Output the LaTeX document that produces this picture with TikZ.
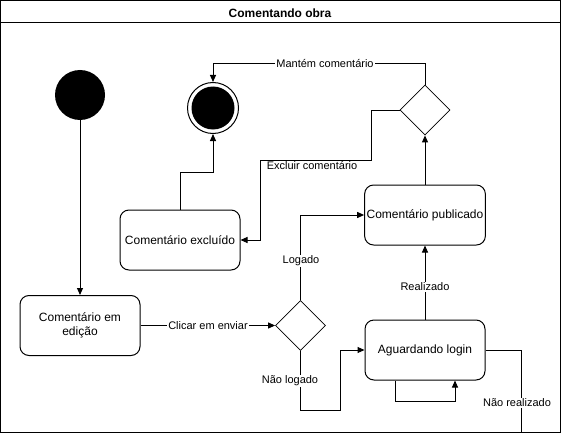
\documentclass[tikz,border=0pt]{standalone}
\usepackage{fontspec}
\setmainfont{Liberation Sans}
\usetikzlibrary{arrows.meta,shapes.geometric}
\tikzset{
  box/.style={draw,line width=1pt,rounded corners=9pt,minimum width=120pt,minimum height=60pt,align=center,font=\fontsize{12}{14}\selectfont,inner sep=2pt},
  dia/.style={draw,diamond,aspect=1,minimum width=50pt,minimum height=50pt,inner sep=0pt,line width=0.8pt},
  conn/.style={line width=1pt},
  arr/.style={conn,-{Triangle[length=7pt,width=6pt]}},
  lbl/.style={fill=white,inner sep=1pt,font=\fontsize{11}{13}\selectfont},
}
\begin{document}
\begin{tikzpicture}[x=1pt,y=-1pt]
\useasboundingbox (0,0) rectangle (561,433);
\draw[line width=1pt,fill=white] (0.5,0.5) rectangle (560.5,432.5);
\draw[line width=1pt] (0.5,23) -- (560.5,23);
\node[font=\fontsize{12}{14}\selectfont\bfseries] (title) at (280,13.5) {Comentando obra};

\node[circle,fill=black,minimum size=50pt,inner sep=0pt] (start) at (80,95) {};
\node[circle,draw,line width=1pt,fill=white,minimum size=51pt,inner sep=0pt] (endo) at (213,108) {};
\node[circle,fill=black,minimum size=43pt,inner sep=0pt] (endi) at (213,108) {};

\node[box] (edit) at (80,325.5) {Comentário em\\edição};
\node[box] (excl) at (180,240) {Comentário excluído};
\node[box] (pub) at (425,215) {Comentário publicado};
\node[box] (ag) at (425,350) {Aguardando login};

\node[dia] (d1) at (300.5,325.5) {};
\node[dia] (d2) at (425,110) {};

\draw[arr] (start) -- (edit);
\draw[arr] (edit) -- (d1);
\draw[arr] (d1.north) |- (pub.west);
\draw[arr] (d1.south) -- (300.5,410) -- (340,410) |- (ag.west);
\draw[arr] (ag.south -| 395,0) -- (395,401) -- (455,401) -- (ag.south -| 455,0);
\draw[conn] (ag.east) -- (521,350) -- (521,432.5);
\draw[arr] (ag) -- (pub);
\draw[arr] (pub) -- (d2);
\draw[arr] (d2.north) -- (425,64) -| (endo.north);
\draw[arr] (d2.west) -- (371,110) -- (371,160) -- (260,160) |- (excl.east);
\draw[arr] (excl.north) -- (180,172) -| (endo.south);

\node[lbl] (l1) at (208,325.5) {Clicar em enviar};
\node[lbl] (l2) at (301,261) {Logado};
\node[lbl] (l3) at (290,381) {Não logado};
\node[lbl] (l4) at (425,287) {Realizado};
\node[lbl] (l5) at (517,403) {Não realizado};
\node[lbl] (l6) at (325,64) {Mantém comentário};
\node[lbl] (l7) at (312,166) {Excluir comentário};
\end{tikzpicture}
\end{document}
